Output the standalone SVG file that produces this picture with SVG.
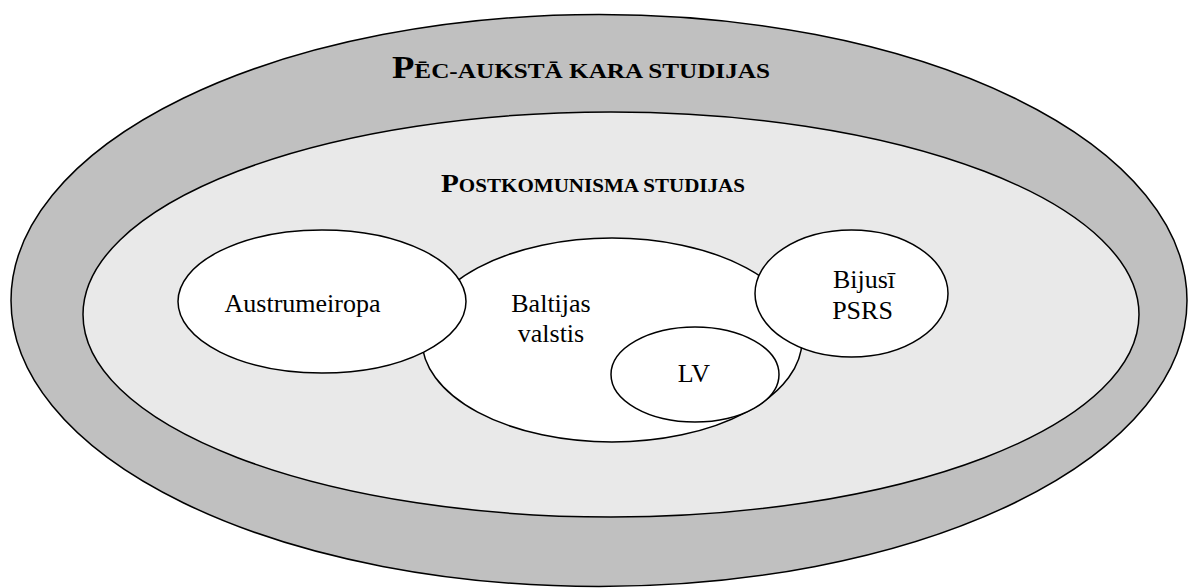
<svg xmlns="http://www.w3.org/2000/svg" width="1190" height="588" viewBox="0 0 1190 588">
<style>
.sh{stroke:#000;stroke-width:1.5}
.w{fill:#fff}
.t{font-family:"Liberation Serif","Times New Roman",serif;font-size:26px;fill:#000;text-anchor:middle}
.h{font-family:"Liberation Serif","Times New Roman",serif;font-weight:bold;fill:#000}
</style>
<rect width="1190" height="588" fill="#fff"/>
<g id="pec-auksta-kara">
<ellipse class="sh" cx="599" cy="300.5" rx="588" ry="286" fill="#c0c0c0"/>
<text class="h" x="392" y="78" textLength="378" lengthAdjust="spacingAndGlyphs"><tspan font-size="32">P</tspan><tspan font-size="22">ĒC-AUKSTĀ KARA STUDIJAS</tspan></text>
</g>
<g id="postkomunisma">
<ellipse class="sh" cx="611" cy="314.5" rx="528" ry="202.5" fill="#e9e9e9"/>
<text class="h" x="441" y="192" textLength="304" lengthAdjust="spacingAndGlyphs"><tspan font-size="25">P</tspan><tspan font-size="18">OSTKOMUNISMA STUDIJAS</tspan></text>
</g>
<g id="baltijas">
<ellipse class="sh w" cx="612" cy="340" rx="190" ry="102"/>
<text class="t" x="551" y="312">Baltijas</text>
<text class="t" x="551" y="342">valstis</text>
</g>
<g id="austrumeiropa">
<ellipse class="sh w" cx="322" cy="301.5" rx="144" ry="71.5"/>
<text class="t" x="302.5" y="312">Austrumeiropa</text>
</g>
<g id="bijusi-psrs">
<ellipse class="sh w" cx="851.5" cy="293.5" rx="96.5" ry="63.5"/>
<text class="t" x="864" y="288">Bijusī</text>
<text class="t" x="862.5" y="319">PSRS</text>
</g>
<g id="lv">
<ellipse class="sh w" cx="695" cy="374.5" rx="84" ry="47.5"/>
<text class="t" x="694" y="382">LV</text>
</g>
<g id="connectors"></g>
</svg>
